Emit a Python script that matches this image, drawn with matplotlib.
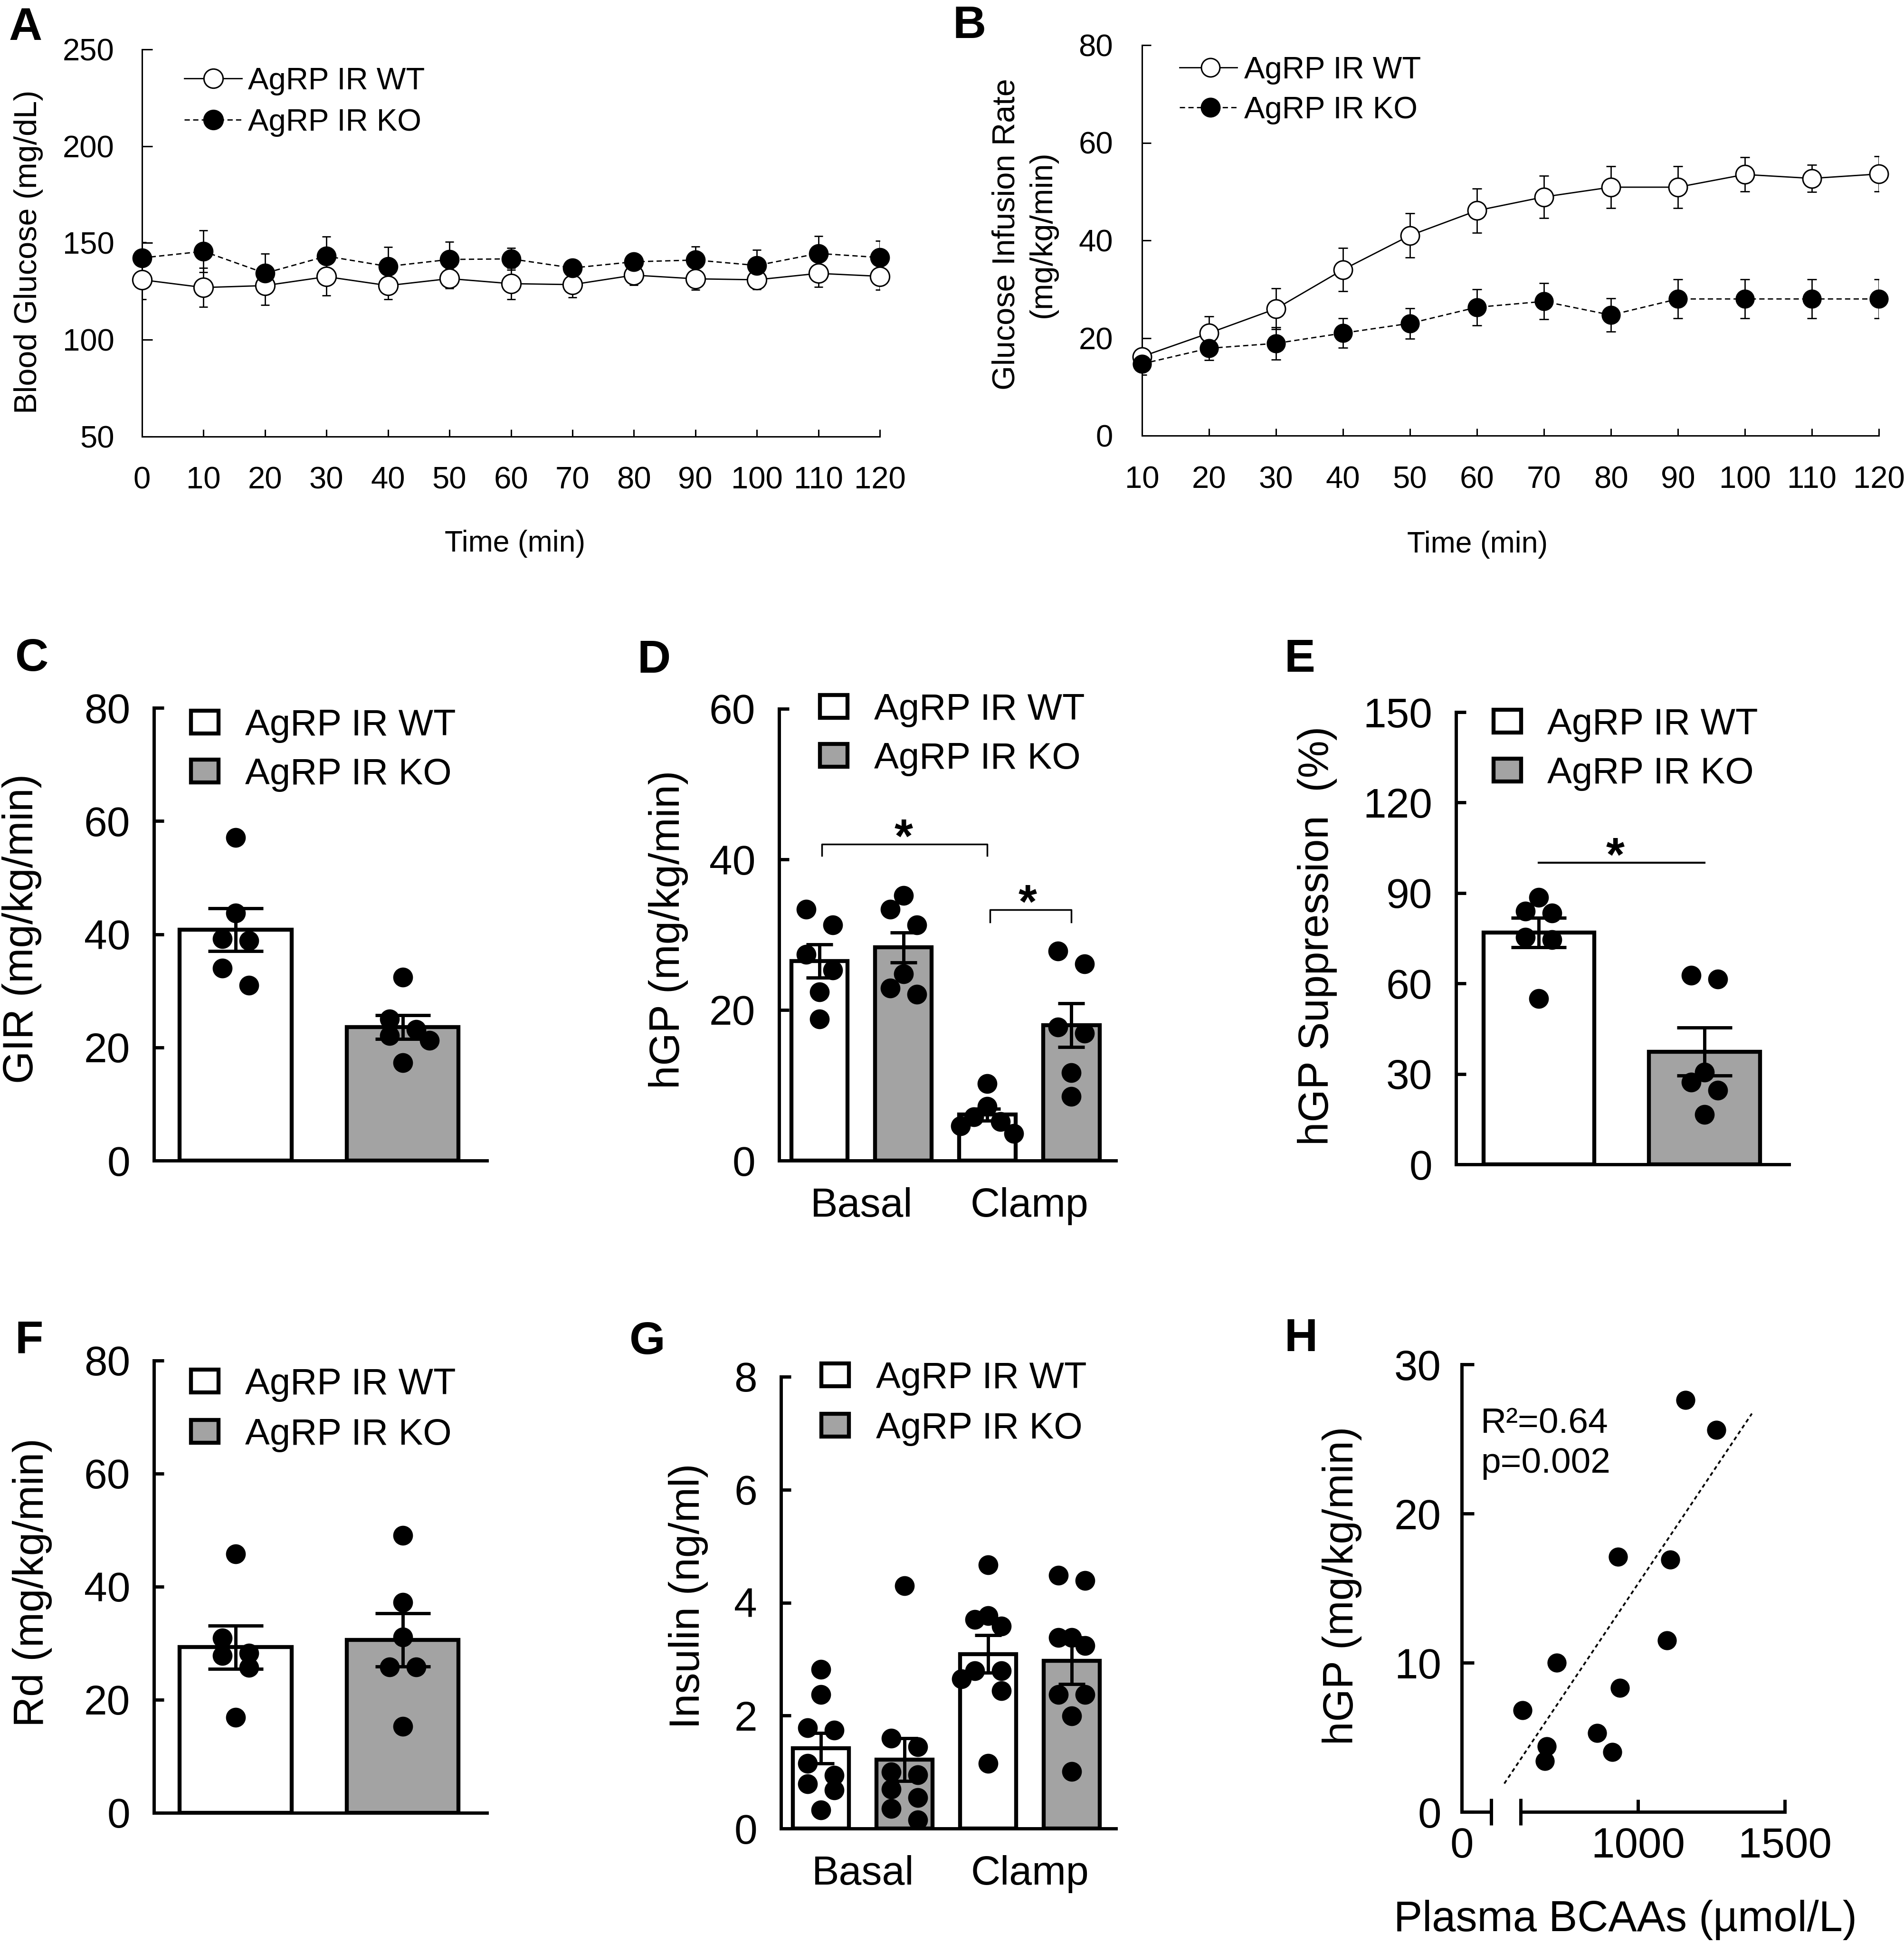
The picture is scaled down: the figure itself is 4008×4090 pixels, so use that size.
import numpy as np
import matplotlib
matplotlib.use("Agg")
import matplotlib.pyplot as plt
from matplotlib.lines import Line2D
from matplotlib.patches import Rectangle

plt.rcParams["font.family"] = ["Liberation Sans", "DejaVu Sans"]

W, H = 4008, 4090
GRAY = "#a3a3a3"
labels = ["AgRP IR WT", "AgRP IR KO"]

# A: blood glucose during the clamp
time_a = [0, 10, 20, 30, 40, 50, 60, 70, 80, 90, 100, 110, 120]
bg_wt = [131, 127, 128, 132.6, 128, 131.6, 129, 128.5, 133.4, 131.5, 131, 134.3, 132.8]
bg_wt_sem = [10, 10, 10, 9.7, 7, 5, 8, 6.5, 5, 5.6, 5, 7, 7]
bg_ko = [142.3, 145.7, 134.4, 143.2, 137.9, 141.5, 141.8, 137.1, 140.3, 141.2, 138.4, 144.6, 142.5]
bg_ko_sem = [8, 10.7, 10, 10, 10, 9, 5.6, 3, 3, 7, 8, 9, 8.6]

# B: glucose infusion rate
time_b = [10, 20, 30, 40, 50, 60, 70, 80, 90, 100, 110, 120]
gir_t_wt = [16.2, 21.0, 26.0, 34.0, 41.0, 46.1, 48.9, 50.9, 50.9, 53.5, 52.7, 53.6]
gir_t_wt_sem = [1.5, 3.4, 4.2, 4.4, 4.5, 4.5, 4.3, 4.3, 4.3, 3.5, 2.8, 3.6]
gir_t_ko = [14.7, 17.9, 18.9, 21.0, 23.0, 26.3, 27.5, 24.7, 28.0, 28.0, 28.0, 28.0]
gir_t_ko_sem = [2.2, 2.4, 3.3, 3.0, 3.1, 3.7, 3.7, 3.4, 4.0, 4.0, 4.0, 4.0]

# C: GIR
gir_mean = [40.8, 23.6]
gir_sem = [3.8, 2.1]
gir_wt = [57.1, 43.7, 39.2, 38.9, 34.0, 31.0]
gir_ko = [32.4, 25.0, 23.2, 22.1, 21.2, 17.3]

# D: hGP basal / clamp
hgp_mean = [26.5, 28.3, 6.1, 18.0]
hgp_sem = [2.2, 2.0, 0.8, 2.9]
hgp_basal_wt = [33.4, 31.3, 27.4, 25.3, 22.4, 18.8]
hgp_basal_ko = [35.2, 33.4, 31.3, 24.8, 22.9, 22.1]
hgp_clamp_wt = [10.2, 7.2, 5.8, 5.2, 4.6, 3.6]
hgp_clamp_ko = [27.8, 26.1, 17.7, 16.9, 11.7, 8.5]
group_ticks = ["Basal", "Clamp"]

# E: hGP suppression
sup_mean = [76.9, 37.4]
sup_sem = [4.9, 8.0]
sup_wt = [88.6, 84.0, 83.4, 75.3, 74.5, 55.0]
sup_ko = [62.7, 61.4, 30.5, 27.2, 24.6, 16.5]

# F: Rd
rd_mean = [29.3, 30.6]
rd_sem = [3.8, 4.7]
rd_wt = [45.8, 30.9, 28.2, 27.8, 25.7, 16.9]
rd_ko = [49.1, 37.2, 31.1, 25.8, 25.8, 15.3]

# G: insulin
ins_mean = [1.42, 1.22, 3.09, 2.97]
ins_sem = [0.27, 0.38, 0.33, 0.41]
ins_basal_wt = [2.82, 2.37, 1.78, 1.74, 1.15, 0.94, 0.79, 0.68, 0.33]
ins_basal_ko = [4.3, 1.6, 1.45, 1.0, 0.95, 0.7, 0.55, 0.35, 0.15]
ins_clamp_wt = [4.67, 3.77, 3.70, 3.58, 2.79, 2.79, 2.65, 2.44, 1.15]
ins_clamp_ko = [4.48, 4.39, 3.38, 3.38, 3.24, 2.37, 2.37, 1.99, 1.01]

# H: hGP vs plasma BCAAs
bcaa = [932, 1110, 1099, 724, 939, 607, 861, 689, 683, 913, 1162, 1267]
hgp_h = [17.1, 16.9, 11.5, 10.0, 8.3, 6.8, 5.3, 4.4, 3.4, 4.0, 27.6, 25.6]
fit_x = [545, 1388]
fit_y = [1.9, 26.7]

fig = plt.figure(figsize=(W / 100, H / 100), dpi=100)


def fx(x):
    return x / W


def fy(y):
    return 1 - y / H


def add_ax(l, t, r, b):
    return fig.add_axes([fx(l), fy(b), (r - l) / W, (b - t) / H])


def style(ax, lw, tlen, size, pad):
    for s in ("top", "right"):
        ax.spines[s].set_visible(False)
    for s in ("left", "bottom"):
        ax.spines[s].set_linewidth(lw)
    ax.tick_params(direction="in", length=tlen, width=lw, labelsize=size, pad=pad)


def ylabel(ax, text, x, y, size, **kw):
    ax.set_ylabel(text, fontsize=size, va="center", **kw)
    ax.yaxis.set_label_coords(fx(x), fy(y), transform=fig.transFigure)


def xlabel(ax, text, x, y, size):
    ax.set_xlabel(text, fontsize=size, va="center")
    ax.xaxis.set_label_coords(fx(x), fy(y), transform=fig.transFigure)


def spread(vals, ppu, step=28, diam=40):
    # sideways offsets (px) so dots with close values sit next to each other
    vals = np.asarray(vals, dtype=float)
    order = np.argsort(-vals, kind="stable")
    groups = [[order[0]]]
    for a, b in zip(order[:-1], order[1:]):
        if (vals[a] - vals[b]) * ppu < diam:
            groups[-1].append(b)
        else:
            groups.append([b])
    offs = np.zeros(len(vals))
    placed = []

    def gap(c, v):
        return min((np.hypot(c - px, (v - pv) * ppu) for px, pv in placed), default=1e9)

    for g in groups:
        odd = len(g) % 2
        for k, i in enumerate(g):
            if odd and k == 0:
                c = 0.0
            else:
                side = -1 if (k - odd) % 2 == 0 else 1
                cands = [side * step, side * step * 2]
                ok = [c for c in cands if gap(c, vals[i]) >= 0.7 * diam]
                c = ok[0] if ok else max(cands, key=lambda c: gap(c, vals[i]))
            offs[i] = c
            placed.append((c, vals[i]))
    return offs


def time_panel(ax, t, wt, wt_sem, ko, ko_sem, ms, cap):
    ax.errorbar(t, wt, yerr=wt_sem, fmt="none", ecolor="k", elinewidth=2, capsize=cap, capthick=2, zorder=2)
    ax.errorbar(t, ko, yerr=ko_sem, fmt="none", ecolor="k", elinewidth=2, capsize=cap, capthick=2, zorder=2)
    ax.plot(t, wt, color="k", lw=2, marker="o", ms=ms, mfc="white", mec="k", mew=2.2,
            clip_on=False, zorder=3)
    ax.plot(t, ko, color="k", lw=2, ls=(0, (4, 2.5)), marker="o", ms=ms, mfc="k", mec="k",
            clip_on=False, zorder=4)


def bar_panel(ax, means, sems, groups, fills, cap):
    xs = np.arange(len(means))
    ax.bar(xs, means, width=0.67, color=fills, edgecolor="k", linewidth=6, zorder=1)
    ax.errorbar(xs, means, yerr=sems, fmt="none", ecolor="k", elinewidth=5, capsize=cap,
                capthick=5, zorder=2)
    pos = ax.get_position()
    ppu_y = pos.height * H / (ax.get_ylim()[1] - ax.get_ylim()[0])
    ppu_x = pos.width * W / (ax.get_xlim()[1] - ax.get_xlim()[0])
    for x0, vals in zip(xs, groups):
        ax.plot(x0 + spread(vals, ppu_y) / ppu_x, vals, "o", color="k", ms=29, zorder=3, clip_on=False)


def line_legend(x0, x1, xm, rows, tx, ms, size):
    looks = [("-", "white"), ((0, (4, 2.5)), "k")]
    for y, (ls, mfc), lab in zip(rows, looks, labels):
        fig.add_artist(Line2D([fx(x0), fx(x1)], [fy(y)] * 2, color="k", lw=2, ls=ls))
        fig.add_artist(Line2D([fx(xm)], [fy(y)], marker="o", ms=ms, mfc=mfc, mec="k", mew=2.2, ls="none"))
        fig.text(fx(tx), fy(y + 0.358 * size / 0.72), lab, fontsize=size, va="baseline")


def box_legend(cx, rows, tx, size=56):
    for y, fill, lab in zip(rows, ["white", GRAY], labels):
        fig.add_artist(Rectangle((fx(cx - 29), fy(y + 24)), 58 / W, 48 / H, facecolor=fill,
                                 edgecolor="k", lw=6, transform=fig.transFigure))
        fig.text(fx(tx), fy(y + 0.358 * size / 0.72), lab, fontsize=size, va="baseline")


def star(ax, x, y):
    ax.annotate("*", (x, y), xytext=(0, -12), textcoords="offset points", ha="center",
                va="baseline", fontsize=72, fontweight="bold")


# ---- A ----
ax = add_ax(299, 104, 1852, 919)
ax.set_xlim(0, 120)
ax.set_ylim(50, 250)
time_panel(ax, time_a, bg_wt, bg_wt_sem, bg_ko, bg_ko_sem, 29, 6.5)
style(ax, 2.2, 16, 47, 42)
ax.set_xticks(time_a)
ax.set_yticks(range(50, 251, 50))
ax.tick_params(axis="x", length=11, pad=45)
ylabel(ax, "Blood Glucose (mg/dL)", 60, 530, 48)
xlabel(ax, "Time (min)", 1084, 1145, 45)
line_legend(388, 509, 449, [165, 252], 522, 29, 47)

# ---- B ----
ax = add_ax(2404, 95, 3955, 917)
ax.set_xlim(10, 120)
ax.set_ylim(0, 80)
time_panel(ax, time_b, gir_t_wt, gir_t_wt_sem, gir_t_ko, gir_t_ko_sem, 28, 7)
style(ax, 2.2, 14, 47, 44)
ax.set_xticks(time_b)
ax.set_yticks(range(0, 81, 20))
ax.tick_params(axis="x", length=11, pad=46)
ylabel(ax, "Glucose Infusion Rate\n(mg/kg/min)", 2157, 493, 48, ha="center", linespacing=1.3)
xlabel(ax, "Time (min)", 3110, 1147, 45)
line_legend(2483, 2604, 2548, [142, 226], 2619, 28, 47)

# ---- C ----
ax = add_ax(324, 1490, 1025, 2443)
ax.set_xlim(-0.49, 1.505)
ax.set_ylim(0, 80)
bar_panel(ax, gir_mean, gir_sem, [gir_wt, gir_ko], ["white", GRAY], 42)
style(ax, 5, 15, 63, 36)
ax.set_yticks(range(0, 81, 20))
ax.set_xticks([])
ylabel(ax, "GIR (mg/kg/min)", 46, 1955, 64)
box_legend(431, [1520, 1623], 516)

# ---- D ----
ax = add_ax(1640, 1492, 2349, 2443)
ax.set_xlim(-0.48, 3.53)
ax.set_ylim(0, 60)
bar_panel(ax, hgp_mean, hgp_sem, [hgp_basal_wt, hgp_basal_ko, hgp_clamp_wt, hgp_clamp_ko],
          ["white", GRAY, "white", GRAY], 20)
style(ax, 5, 15, 63, 36)
ax.set_yticks(range(0, 61, 20))
ax.set_xticks([0.5, 2.5], group_ticks)
ax.tick_params(axis="x", length=0, pad=40, labelsize=62)
ax.plot([0.03, 0.03, 2.0, 2.0], [40.5, 42, 42, 40.5], color="k", lw=2.5)
ax.plot([2.03, 2.03, 3.0, 3.0], [31.7, 33.3, 33.3, 31.7], color="k", lw=2.5)
star(ax, 1.0, 42)
star(ax, 2.48, 33.3)
ylabel(ax, "hGP (mg/kg/min)", 1407, 1957, 64)
box_legend(1755, [1487, 1590], 1840)

# ---- E ----
ax = add_ax(3065, 1499, 3766, 2451)
ax.set_xlim(-0.5, 1.51)
ax.set_ylim(0, 150)
bar_panel(ax, sup_mean, sup_sem, [sup_wt, sup_ko], ["white", GRAY], 42)
style(ax, 5, 15, 63, 36)
ax.set_yticks(range(0, 151, 30))
ax.set_xticks([])
ax.plot([0, 1], [100, 100], color="k", lw=3)
star(ax, 0.46, 100)
ylabel(ax, "hGP Suppression  (%)", 2773, 1970, 64)
box_legend(3173, [1518, 1621], 3257)

# ---- F ----
ax = add_ax(324, 2864, 1025, 3816)
ax.set_xlim(-0.49, 1.505)
ax.set_ylim(0, 80)
bar_panel(ax, rd_mean, rd_sem, [rd_wt, rd_ko], ["white", GRAY], 42)
style(ax, 5, 15, 63, 36)
ax.set_yticks(range(0, 81, 20))
ax.set_xticks([])
ylabel(ax, "Rd (mg/kg/min)", 68, 3331, 64)
box_legend(431, [2907, 3013], 516)

# ---- G ----
ax = add_ax(1644, 2898, 2349, 3849)
ax.set_xlim(-0.48, 3.53)
ax.set_ylim(0, 8)
bar_panel(ax, ins_mean, ins_sem, [ins_basal_wt, ins_basal_ko, ins_clamp_wt, ins_clamp_ko],
          ["white", GRAY, "white", GRAY], 20)
style(ax, 5, 15, 63, 36)
ax.set_yticks(range(0, 9, 2))
ax.set_xticks([0.5, 2.5], group_ticks)
ax.tick_params(axis="x", length=0, pad=40, labelsize=62)
ylabel(ax, "Insulin (ng/ml)", 1449, 3360, 64)
box_legend(1758, [2894, 3000], 1844)

# ---- H ----
ax = add_ax(3077, 2872, 3757, 3814)
ax.set_xlim(400, 1500)
ax.set_ylim(0, 30)
ax.plot(fit_x, fit_y, color="k", lw=2.7, ls=(0, (2.2, 1.8)))
ax.plot(bcaa, hgp_h, "o", color="k", ms=28, clip_on=False, zorder=3)
style(ax, 5, 19, 64, 31)
ax.set_yticks(range(0, 31, 10))
# broken x axis: short stub from the origin, then 600-1500
ax.spines["bottom"].set_bounds(600, 1500)
ax.plot([400, 500], [0, 0], transform=ax.get_xaxis_transform(), color="k", lw=5,
        clip_on=False, solid_capstyle="butt")
ax.set_xticks([400, 1000, 1500], ["0", "1000", "1500"])
ax.set_xticks([500, 600], minor=True)
ax.tick_params(axis="x", pad=22)
ax.tick_params(axis="x", which="minor", direction="inout", length=41, width=5)
fig.text(fx(3117), fy(3015), "R²=0.64", fontsize=54, va="baseline")
fig.text(fx(3117), fy(3100), "p=0.002", fontsize=54, va="baseline")
ylabel(ax, "hGP (mg/kg/min)", 2825, 3338, 64)
xlabel(ax, "Plasma BCAAs (µmol/L)", 3421, 4041, 65)

# panel letters
for letter, x, y in [("A", 19, 84), ("B", 2006, 80), ("C", 32, 1412), ("D", 1342, 1416),
                     ("E", 2704, 1414), ("F", 32, 2848), ("G", 1325, 2850), ("H", 2704, 2844)]:
    fig.text(fx(x), fy(y), letter, fontsize=70, fontweight="bold", va="baseline")

fig.savefig("out.png", dpi=100)
